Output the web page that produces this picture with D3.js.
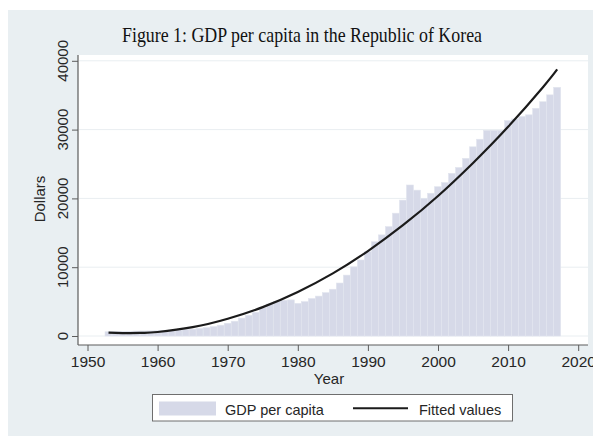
<!DOCTYPE html>
<html>
<head>
<meta charset="utf-8">
<script src="https://d3js.org/d3.v7.min.js"></script>
<style>
  body { margin: 0; background: #fff; }
  text { font-family: "Liberation Sans", Arial, sans-serif; fill: #262626; }
  .title { font-family: "Liberation Serif", "Times New Roman", serif; fill: #111; }
</style>
</head>
<body>
<svg id="chart" width="593" height="436"></svg>
<script>
// GDP per capita, one bar per year
const years = [1953, 1954, 1955, 1956, 1957, 1958, 1959, 1960, 1961, 1962,
               1963, 1964, 1965, 1966, 1967, 1968, 1969, 1970, 1971, 1972,
               1973, 1974, 1975, 1976, 1977, 1978, 1979, 1980, 1981, 1982,
               1983, 1984, 1985, 1986, 1987, 1988, 1989, 1990, 1991, 1992,
               1993, 1994, 1995, 1996, 1997, 1998, 1999, 2000, 2001, 2002,
               2003, 2004, 2005, 2006, 2007, 2008, 2009, 2010, 2011, 2012,
               2013, 2014, 2015, 2016, 2017];
const gdp = [620, 650, 680, 690, 720, 740, 750, 765, 795, 835,
             890, 940, 1000, 1100, 1210, 1370, 1570, 1850, 2150, 2600,
             3000, 3450, 4100, 4650, 5000, 5200, 5250, 4750, 5000, 5450,
             5800, 6300, 6800, 7700, 8850, 10050, 11050, 12250, 13700, 14700,
             15900, 17850, 19750, 21950, 21200, 20000, 20750, 21700, 22300, 23650,
             24500, 25830, 27500, 28600, 29900, 29900, 29900, 31300, 31550, 31900,
             32150, 33100, 34050, 35050, 36150];

// fitted values curve
const fitYears = [1953, 1955, 1958, 1960, 1965, 1970, 1975, 1980, 1985, 1990,
                  1995, 2000, 2005, 2010, 2015, 2017];
const fitValues = [480, 410, 450, 580, 1280, 2500, 4200, 6400, 9100, 12350,
                   16100, 20350, 25150, 30400, 36200, 38750];

const xTicks = [1950, 1960, 1970, 1980, 1990, 2000, 2010, 2020];
const yTicks = [0, 10000, 20000, 30000, 40000];

const width = 593, height = 436;
const plot = { left: 78, right: 588, top: 55, bottom: 345 };
const barColor = "#d6d9e8";
const axisColor = "#5c5c5c";

const svg = d3.select("#chart");

// graph region (stata style light bluish gray)
svg.append("rect")
    .attr("x", 8).attr("y", 10)
    .attr("width", width - 8).attr("height", height - 10)
    .attr("fill", "#e9eff2");

// plot region
svg.append("rect")
    .attr("x", plot.left).attr("y", plot.top)
    .attr("width", plot.right - plot.left).attr("height", plot.bottom - plot.top)
    .attr("fill", "#fff");

const x = d3.scaleLinear().domain([1950, 2020]).range([87.5, 578.2]);
const y = d3.scaleLinear().domain([0, 40000]).range([336, 60.8]);

// gridlines
svg.append("g")
    .selectAll("line")
    .data(yTicks)
    .join("line")
    .attr("x1", plot.left + 1).attr("x2", plot.right)
    .attr("y1", d => y(d)).attr("y2", d => y(d))
    .attr("stroke", "#e9eef1")
    .attr("stroke-width", 1);

// bars
const bw = x(1951) - x(1950);
svg.append("g")
    .selectAll("rect")
    .data(years)
    .join("rect")
    .attr("x", d => x(d) - bw / 2)
    .attr("y", (d, i) => y(gdp[i]))
    .attr("width", bw)
    .attr("height", (d, i) => y(0) - y(gdp[i]))
    .attr("fill", barColor)
    .attr("stroke", "#e2e5ee")
    .attr("stroke-width", 0.6);

// fitted line
const line = d3.line()
    .x(d => x(d[0]))
    .y(d => y(d[1]))
    .curve(d3.curveNatural);

svg.append("path")
    .datum(d3.zip(fitYears, fitValues))
    .attr("d", line)
    .attr("fill", "none")
    .attr("stroke", "#1b1b1b")
    .attr("stroke-width", 2.2);

// x axis
const xAxis = d3.axisBottom(x)
    .tickValues(xTicks)
    .tickFormat(d3.format("d"))
    .tickSizeInner(6).tickSizeOuter(0)
    .tickPadding(5);

const gx = svg.append("g")
    .attr("transform", `translate(0,${plot.bottom})`)
    .call(xAxis);
gx.select(".domain").remove();
gx.selectAll(".tick line").attr("stroke", axisColor);
gx.selectAll(".tick text")
    .attr("font-size", 15.5)
    .attr("font-family", null)
    .attr("fill", "#262626");

svg.append("line")
    .attr("x1", plot.left).attr("x2", plot.right)
    .attr("y1", plot.bottom).attr("y2", plot.bottom)
    .attr("stroke", axisColor).attr("stroke-width", 1.2);

// y axis (ticks only, labels drawn rotated below)
const yAxis = d3.axisLeft(y)
    .tickValues(yTicks)
    .tickFormat("")
    .tickSizeInner(6).tickSizeOuter(0);

const gy = svg.append("g")
    .attr("transform", `translate(${plot.left},0)`)
    .call(yAxis);
gy.select(".domain").remove();
gy.selectAll(".tick line").attr("stroke", axisColor);

svg.append("line")
    .attr("x1", plot.left).attr("x2", plot.left)
    .attr("y1", plot.top).attr("y2", plot.bottom)
    .attr("stroke", axisColor).attr("stroke-width", 1.2);

svg.append("g")
    .selectAll("text")
    .data(yTicks)
    .join("text")
    .attr("x", 68).attr("y", d => y(d))
    .attr("transform", d => `rotate(-90, 68, ${y(d)})`)
    .attr("text-anchor", "middle")
    .attr("font-size", 15)
    .text(d => d);

// axis titles
svg.append("text")
    .attr("x", 45).attr("y", 199)
    .attr("transform", "rotate(-90, 45, 199)")
    .attr("text-anchor", "middle")
    .attr("font-size", 15)
    .text("Dollars");

svg.append("text")
    .attr("x", 329).attr("y", 383.5)
    .attr("text-anchor", "middle")
    .attr("font-size", 15)
    .text("Year");

// title
svg.append("text")
    .attr("class", "title")
    .attr("x", 122).attr("y", 42)
    .attr("font-size", 21)
    .attr("textLength", 360)
    .attr("lengthAdjust", "spacingAndGlyphs")
    .text("Figure 1: GDP per capita in the Republic of Korea");

// legend
const legend = svg.append("g");
legend.append("rect")
    .attr("x", 152.5).attr("y", 394.5)
    .attr("width", 360).attr("height", 26.5)
    .attr("fill", "#fff")
    .attr("stroke", "#6e6e6e").attr("stroke-width", 1);
legend.append("rect")
    .attr("x", 159).attr("y", 401.5)
    .attr("width", 57).attr("height", 14)
    .attr("fill", barColor);
legend.append("text")
    .attr("x", 225).attr("y", 415)
    .attr("font-size", 14.5)
    .text("GDP per capita");
legend.append("line")
    .attr("x1", 353).attr("x2", 408)
    .attr("y1", 408.3).attr("y2", 408.3)
    .attr("stroke", "#1b1b1b").attr("stroke-width", 2);
legend.append("text")
    .attr("x", 419).attr("y", 415)
    .attr("font-size", 14.5)
    .text("Fitted values");
</script>
</body>
</html>
